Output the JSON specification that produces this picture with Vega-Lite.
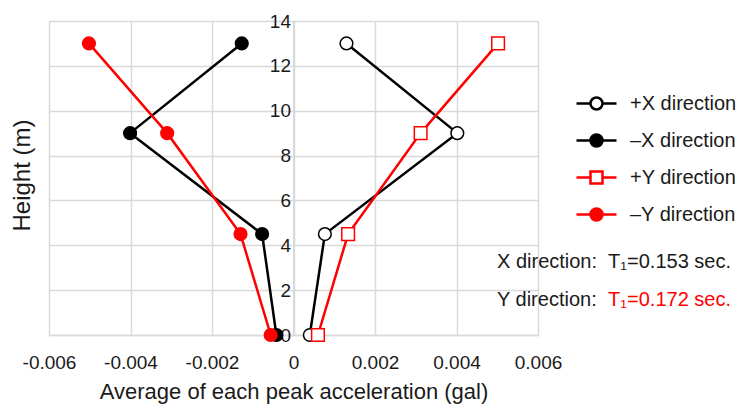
{
  "$schema": "https://vega.github.io/schema/vega-lite/v6.json",
  "width": 489,
  "height": 314,
  "autosize": {"type": "none"},
  "padding": {"left": 49, "top": 21, "right": 198, "bottom": 70},
  "config": {
    "font": "Liberation Sans",
    "view": {"stroke": null},
    "axis": {"labelColor": "#1a1a1a", "titleColor": "#1a1a1a", "titleFontWeight": "normal"},
    "legend": {"labelColor": "#1a1a1a"}
  },
  "datasets": {
    "profiles": [
      {"series": "+X direction", "acc": 0.0004, "h": 0},
      {"series": "+X direction", "acc": 0.00077, "h": 4.5},
      {"series": "+X direction", "acc": 0.00402, "h": 9},
      {"series": "+X direction", "acc": 0.0013, "h": 13},
      {"series": "–X direction", "acc": -0.00042, "h": 0},
      {"series": "–X direction", "acc": -0.00077, "h": 4.5},
      {"series": "–X direction", "acc": -0.00401, "h": 9},
      {"series": "–X direction", "acc": -0.00127, "h": 13},
      {"series": "+Y direction", "acc": 0.0006, "h": 0},
      {"series": "+Y direction", "acc": 0.00134, "h": 4.5},
      {"series": "+Y direction", "acc": 0.00312, "h": 9},
      {"series": "+Y direction", "acc": 0.00502, "h": 13},
      {"series": "–Y direction", "acc": -0.00056, "h": 0},
      {"series": "–Y direction", "acc": -0.0013, "h": 4.5},
      {"series": "–Y direction", "acc": -0.0031, "h": 9},
      {"series": "–Y direction", "acc": -0.00502, "h": 13}
    ],
    "notes": [
      {"note": "X direction:", "acc": 0.004994, "h": 3.24},
      {"note": "T₁=0.153 sec.", "acc": 0.00772, "h": 3.24},
      {"note": "Y direction:", "acc": 0.004994, "h": 1.54},
      {"note": "T₁=0.172 sec.", "acc": 0.00772, "h": 1.54}
    ]
  },
  "encoding": {
    "x": {
      "field": "acc", "type": "quantitative",
      "scale": {"domain": [-0.006, 0.006], "nice": false, "zero": false},
      "axis": {
        "values": [-0.006, -0.004, -0.002, 0, 0.002, 0.004, 0.006],
        "labelExpr": "datum.value == 0 ? '0' : replace(format(datum.value, '.3f'), '\u2212', '-')",
        "labelFontSize": 19, "labelPadding": 18, "ticks": false,
        "labelFlush": false, "labelOverlap": false,
        "domainColor": "#d9d9d9", "domainWidth": 1.5,
        "grid": true, "gridColor": "#d9d9d9", "gridWidth": 1.5,
        "title": "Average of each peak acceleration (gal)",
        "titleFontSize": 22, "titlePadding": 9
      }
    },
    "y": {
      "field": "h", "type": "quantitative",
      "scale": {"domain": [0, 14], "nice": false},
      "axis": {
        "values": [0, 2, 4, 6, 8, 10, 12, 14],
        "offset": -244.5,
        "labelFontSize": 19, "labelPadding": 3, "ticks": false,
        "labelFlush": false, "labelOverlap": false,
        "domainColor": "#d9d9d9", "domainWidth": 2,
        "grid": true, "gridColor": "#d9d9d9", "gridWidth": 1.5,
        "title": "Height (m)", "titleFontSize": 24,
        "titleX": -271.5, "titleY": 154, "titleBaseline": "middle", "titleAngle": -90
      }
    }
  },
  "layer": [
    {
      "data": {"name": "profiles"},
      "mark": {"type": "line", "strokeWidth": 2.5},
      "encoding": {
        "order": {"field": "h", "type": "quantitative"},
        "color": {
          "field": "series", "type": "nominal",
          "scale": {"domain": ["+X direction", "–X direction", "+Y direction", "–Y direction"], "range": ["black", "black", "red", "red"]},
          "legend": {
            "orient": "none", "legendX": 526, "legendY": 61,
            "title": null, "padding": 0, "rowPadding": 4,
            "symbolSize": 1600, "symbolStrokeWidth": 2.5,
            "labelFontSize": 20, "labelOffset": 12,
            "encode": {
              "symbols": {
                "update": {
                  "shape": {"signal": "datum.value == '+Y direction' ? 'M-1,0H-0.3M0.3,0H1M-0.3,-0.3H0.3V0.3H-0.3Z' : 'M-1,0H-0.3M0.3,0H1M-0.3,0A0.3,0.3,0,1,1,0.3,0A0.3,0.3,0,1,1,-0.3,0Z'"},
                  "fill": {"signal": "datum.value == '+X direction' || datum.value == '+Y direction' ? 'white' : (datum.value == '–X direction' ? 'black' : 'red')"},
                  "stroke": {"signal": "indexof(datum.value, 'X') >= 0 ? 'black' : 'red'"},
                  "strokeWidth": {"value": 2.5},
                  "opacity": {"value": 1}
                }
              }
            }
          }
        }
      }
    },
    {
      "data": {"name": "profiles"},
      "mark": {"type": "point", "size": 160, "strokeWidth": 1.5, "opacity": 1},
      "encoding": {
        "shape": {"condition": {"test": "datum.series == '+Y direction'", "value": "square"}, "value": "circle"},
        "fill": {
          "condition": [
            {"test": "datum.series == '+X direction' || datum.series == '+Y direction'", "value": "white"},
            {"test": "datum.series == '–X direction'", "value": "black"}
          ],
          "value": "red"
        },
        "stroke": {"condition": {"test": "indexof(datum.series, 'X') >= 0", "value": "black"}, "value": "red"}
      }
    },
    {
      "data": {"name": "notes"},
      "mark": {"type": "text", "align": "left", "baseline": "middle", "fontSize": 20},
      "encoding": {
        "text": {"field": "note", "type": "nominal"},
        "color": {"condition": {"test": "datum.note == 'T₁=0.172 sec.'", "value": "red"}, "value": "#1a1a1a"}
      }
    }
  ]
}
